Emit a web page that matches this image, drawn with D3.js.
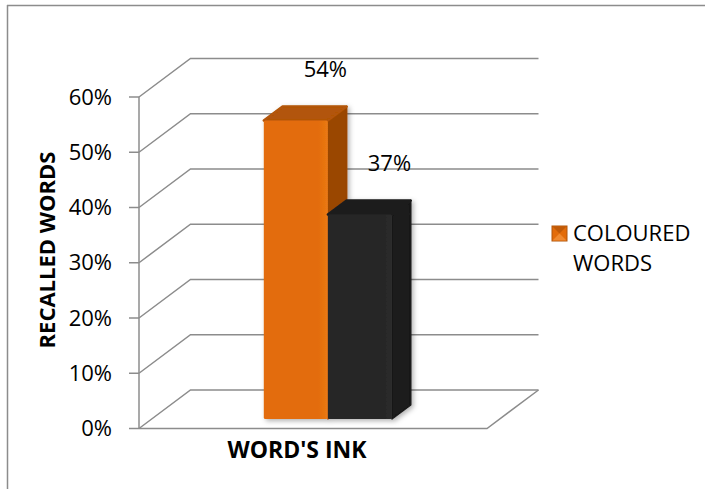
<!DOCTYPE html>
<html>
<head>
<meta charset="utf-8">
<script src="https://cdn.jsdelivr.net/npm/d3@7"></script>
<style>
  html, body { margin: 0; padding: 0; background: #fff; }
  svg { display: block; }
  text { font-family: "Open Sans", "Noto Sans", sans-serif; fill: #000; }
</style>
</head>
<body>
<svg id="chart" width="705" height="489"></svg>
<script>
// ---- data ----
const categories = ["WORD'S INK"];
const seriesNames = ["COLOURED WORDS", "BLACK WORDS"];
const colouredValues = [0.54];
const blackValues = [0.37];
const yTickValues = [0, 0.1, 0.2, 0.3, 0.4, 0.5, 0.6];
const yTickLabels = ["0%", "10%", "20%", "30%", "40%", "50%", "60%"];
const legendSeries = ["COLOURED WORDS"];
const legendLines = ["COLOURED", "WORDS"];
const yAxisTitle = "RECALLED WORDS";

// ---- layout ----
const svg = d3.select("#chart");
const W = 705, H = 489;
const frontLeft = 139, frontRight = 487;
const depthDX = 51.5, depthDY = -38.5;
const barDepth0 = 0.25, barDepth1 = 0.615;

const y = d3.scaleLinear().domain([0, 0.6]).range([428.5, 97]);
const xCat = d3.scaleBand().domain(categories).range([142, 488]).paddingInner(0).paddingOuter(0.85);
const xSer = d3.scaleBand().domain(seriesNames).range([0, xCat.bandwidth()]).padding(0);

const P = (x, v, d) => [x + d * depthDX, y(v) + d * depthDY];
const pts = arr => arr.map(p => p.join(",")).join(" ");

const gridColor = "#8c8c8c";

// defs
const defs = svg.append("defs");
const f = defs.append("filter").attr("id", "shadow").attr("x", "-20%").attr("y", "-20%").attr("width", "150%").attr("height", "150%");
f.append("feDropShadow").attr("dx", 2).attr("dy", 2).attr("stdDeviation", 2.5).attr("flood-color", "#000").attr("flood-opacity", 0.3);

function grad(id, c0, c1) {
  const g = defs.append("linearGradient").attr("id", id).attr("x1", "0").attr("x2", "1").attr("y1", "0").attr("y2", "0");
  g.append("stop").attr("offset", "0%").attr("stop-color", c0);
  g.append("stop").attr("offset", "85%").attr("stop-color", c0);
  g.append("stop").attr("offset", "100%").attr("stop-color", c1);
}
grad("gOrange", "#E36C0A", "#EA7A14");
grad("gBlack", "#262626", "#2c2c2c");

// background + border (only top & left visible)
svg.append("rect").attr("width", W).attr("height", H).attr("fill", "#fff");
svg.append("line").attr("x1", 7).attr("x2", W).attr("y1", 5.5).attr("y2", 5.5).attr("stroke", gridColor).attr("stroke-width", 1.5);
svg.append("line").attr("x1", 7.5).attr("x2", 7.5).attr("y1", 5).attr("y2", H).attr("stroke", gridColor).attr("stroke-width", 1.5);

// back wall gridlines + left wall diagonals
const grid = svg.append("g").attr("stroke", gridColor).attr("stroke-width", 1.5).attr("fill", "none");
yTickValues.forEach(v => {
  const a = P(frontLeft, v, 0), b = P(frontLeft, v, 1), c = P(frontRight, v, 1);
  grid.append("polyline").attr("points", pts([a, b, c]));
});
// floor
const fl0 = P(frontLeft, 0, 0), fl1 = P(frontRight, 0, 0), fl2 = P(frontRight, 0, 1);
grid.append("polyline").attr("points", pts([fl0, fl1, fl2]));
// vertical axis + ticks
grid.append("line").attr("x1", frontLeft).attr("x2", frontLeft).attr("y1", y(0.6)).attr("y2", y(0));
yTickValues.forEach(v => {
  grid.append("line").attr("x1", frontLeft - 10).attr("x2", frontLeft).attr("y1", y(v)).attr("y2", y(v));
});

// tick labels
svg.append("g").selectAll("text").data(yTickValues).join("text")
  .attr("x", 112).attr("y", d => y(d)).attr("dy", "0.35em")
  .attr("text-anchor", "end").attr("font-size", 22)
  .text((d, i) => yTickLabels[i]);

// y axis title
svg.append("text")
  .attr("transform", "translate(55,250) rotate(-90)")
  .attr("text-anchor", "middle").attr("font-size", 22).attr("font-weight", "bold")
  .text(yAxisTitle);

// category label
svg.append("g").selectAll("text").data(categories).join("text")
  .attr("x", d => xCat(d) + xCat.bandwidth() / 2 - 18).attr("y", 458)
  .attr("text-anchor", "middle").attr("font-size", 23).attr("font-weight", "bold")
  .text(d => d);

// bars
const seriesData = [
  { name: seriesNames[0], values: colouredValues, front: "url(#gOrange)", top: "#B25407", side: "#9A4605", stroke: "#D96609" },
  { name: seriesNames[1], values: blackValues, front: "url(#gBlack)", top: "#1e1e1e", side: "#1a1a1a", stroke: "#242424" }
];
const barsG = svg.append("g").attr("filter", "url(#shadow)");
seriesData.forEach(s => {
  categories.forEach((c, i) => {
    const v = s.values[i];
    const x0 = xCat(c) + xSer(s.name), x1 = x0 + xSer.bandwidth();
    const g = barsG.append("g").attr("stroke-linejoin", "round");
    // side
    g.append("polygon").attr("points", pts([P(x1, 0, barDepth0), P(x1, v, barDepth0), P(x1, v, barDepth1), P(x1, 0, barDepth1)]))
      .attr("fill", s.side).attr("stroke", s.side).attr("stroke-width", 1.5);
    // top
    g.append("polygon").attr("points", pts([P(x0, v, barDepth0), P(x1, v, barDepth0), P(x1, v, barDepth1), P(x0, v, barDepth1)]))
      .attr("fill", s.top).attr("stroke", s.top).attr("stroke-width", 2.5);
    // front
    const a = P(x0, v, barDepth0), b = P(x1, 0, barDepth0);
    g.append("rect").attr("x", a[0]).attr("y", a[1]).attr("width", b[0] - a[0]).attr("height", b[1] - a[1])
      .attr("rx", 1.5).attr("fill", s.front);
  });
});

// value labels
seriesData.forEach(s => {
  categories.forEach((c, i) => {
    const v = s.values[i];
    const xc = xCat(c) + xSer(s.name) + xSer.bandwidth() / 2;
    const p = P(xc, v, barDepth0);
    svg.append("text").attr("x", p[0] + 29.5).attr("y", p[1] - 43.5)
      .attr("text-anchor", "middle").attr("font-size", 22)
      .text(Math.round(v * 100) + "%");
  });
});

// legend
const lg = svg.append("g").attr("transform", "translate(552,226)");
lg.append("rect").attr("width", 15).attr("height", 15).attr("fill", "#E36C0A").attr("stroke", "#B0560C").attr("stroke-width", 1);
lg.append("polygon").attr("points", "0.5,0.5 14.5,0.5 7.5,7.5").attr("fill", "#C05A08");
lg.append("polygon").attr("points", "0.5,14.5 14.5,14.5 7.5,7.5").attr("fill", "#F08A30");
lg.selectAll("text.l").data(legendLines).join("text").attr("class", "l")
  .attr("x", 21).attr("y", (d, i) => 15 + i * 30)
  .attr("font-size", 22).text(d => d);
</script>
</body>
</html>
